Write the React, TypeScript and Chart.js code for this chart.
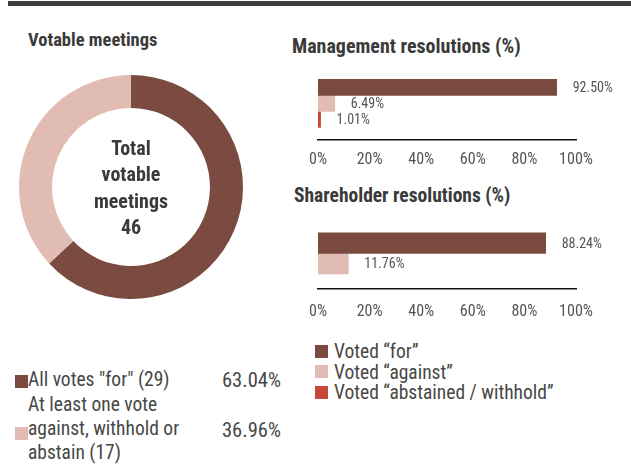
import React, { useEffect, useRef } from "react";
import { Chart, registerables } from "chart.js";

Chart.register(...registerables);

const FONT = "'Roboto Condensed', 'Open Sans Condensed', 'DejaVu Sans Condensed', sans-serif";

// ---- data ----
const meetingLabelLines = [["All votes \"for\" (29)"], ["At least one vote", "against, withhold or", "abstain (17)"]];
const meetingCounts = [29, 17];
const meetingShares = ["63.04%", "36.96%"];
const totalMeetings = 46;
const centerLines = ["Total", "votable", "meetings"];

const voteSeries = ["Voted “for”", "Voted “against”", "Voted “abstained / withhold”"];
const managementValues = [92.5, 6.49, 1.01];
const shareholderValues = [88.24, 11.76];
const percentTicks = [0, 20, 40, 60, 80, 100];

const voteColors = ["#7b4a41", "#e0bcb3", "#c9463d"];
const meetingColors = ["#7b4a41", "#e0bcb3"];

const TEXT_DARK = "#3a3a3a";
const TEXT_GRAY = "#474747";

const valueLabelPlugin = {
  id: "valueLabels",
  afterDatasetsDraw(chart: any) {
    const ctx = chart.ctx;
    ctx.save();
    ctx.font = `14px ${FONT}`;
    ctx.fillStyle = "#555555";
    ctx.textBaseline = "middle";
    ctx.textAlign = "left";
    chart.data.datasets.forEach((ds: any, i: number) => {
      const meta = chart.getDatasetMeta(i);
      meta.data.forEach((el: any, j: number) => {
        const v = ds.data[j];
        ctx.fillText(`${Number(v).toFixed(2)}%`, el.x + 16, el.y + 1);
      });
    });
    ctx.restore();
  },
};

function barOptions(padTop: number, tickPad: number, thickness: number) {
  return {
    indexAxis: "y" as const,
    responsive: false,
    animation: false as const,
    layout: { padding: { left: 30, right: 55, top: padTop, bottom: 4 } },
    plugins: { legend: { display: false }, tooltip: { enabled: false } },
    datasets: { bar: { barThickness: thickness } },
    scales: {
      y: { display: false },
      x: {
        min: percentTicks[0],
        max: percentTicks[percentTicks.length - 1],
        afterBuildTicks: (axis: any) => {
          axis.ticks = percentTicks.map((v) => ({ value: v }));
        },
        grid: { display: false, drawTicks: false },
        border: { display: true, color: "#111111", width: 1.5 },
        ticks: {
          padding: tickPad,
          color: "#555555",
          font: { family: FONT, size: 16 },
          callback: (v: any) => `${v}%`,
        },
      },
    },
  };
}

function BarChart({ values, top, height, padTop, tickPad, thickness }: any) {
  const ref = useRef<HTMLCanvasElement>(null);
  useEffect(() => {
    const chart = new Chart(ref.current!, {
      type: "bar",
      data: {
        labels: [""],
        datasets: values.map((v: number, i: number) => ({
          label: voteSeries[i],
          data: [v],
          backgroundColor: voteColors[i],
          borderWidth: 0,
        })),
      },
      options: barOptions(padTop, tickPad, thickness) as any,
      plugins: [valueLabelPlugin],
    });
    return () => chart.destroy();
  }, []);
  return (
    <canvas
      ref={ref}
      width={343}
      height={height}
      style={{ position: "absolute", left: 288, top, width: 343, height }}
    />
  );
}

function Donut() {
  const ref = useRef<HTMLCanvasElement>(null);
  useEffect(() => {
    const chart = new Chart(ref.current!, {
      type: "doughnut",
      data: {
        labels: meetingLabelLines.map((l) => l.join(" ")),
        datasets: [{ data: meetingCounts, backgroundColor: meetingColors, borderWidth: 0 }],
      },
      options: {
        responsive: false,
        animation: false,
        cutout: "70.5%",
        layout: { padding: 4 },
        plugins: { legend: { display: false }, tooltip: { enabled: false } },
      },
    });
    return () => chart.destroy();
  }, []);
  return (
    <canvas
      ref={ref}
      width={232}
      height={232}
      style={{ position: "absolute", left: 15, top: 71, width: 232, height: 232 }}
    />
  );
}

function Text({ left, cy, size, bold, color, lh, children, width, align }: any) {
  const lineH = lh || Math.round(size * 1.2);
  return (
    <div
      style={{
        position: "absolute",
        left,
        top: cy - lineH / 2,
        width: width,
        textAlign: align || "left",
        fontFamily: FONT,
        fontSize: size,
        fontWeight: bold ? 700 : 400,
        lineHeight: `${lineH}px`,
        color,
        whiteSpace: "nowrap",
      }}
    >
      {children}
    </div>
  );
}

function Square({ left, cy, color }: any) {
  return (
    <div style={{ position: "absolute", left, top: cy - 6.5, width: 13, height: 13, background: color }} />
  );
}

export default function App() {
  const allCenter = [...centerLines, String(totalMeetings)];
  const row1Lines = meetingLabelLines[0];
  const row2Lines = meetingLabelLines[1];
  return (
    <div
      style={{
        position: "absolute",
        left: 0,
        top: 0,
        width: 631,
        height: 470,
        overflow: "hidden",
        background: "#ffffff",
      }}
    >
      <div style={{ position: "absolute", left: 8, top: 1, width: 623, height: 5, background: "#3d3d3d" }} />

      <Text left={28} cy={40} size={18.5} bold color={TEXT_DARK}>Votable meetings</Text>
      <Text left={292} cy={46} size={20} bold color={TEXT_DARK}>Management resolutions (%)</Text>
      <Text left={294} cy={195} size={19.5} bold color={TEXT_DARK}>Shareholder resolutions (%)</Text>

      <Donut />
      {allCenter.map((t, i) => (
        <Text key={i} left={31} width={200} align="center" cy={148 + i * 26.3} size={20} bold color={TEXT_DARK}>
          {t}
        </Text>
      ))}

      <BarChart values={managementValues} top={60} height={125} padTop={7} tickPad={11} thickness={16} />
      <BarChart values={shareholderValues} top={212} height={128} padTop={6} tickPad={14} thickness={20.5} />

      {/* donut legend */}
      <Square left={15} cy={381} color={meetingColors[0]} />
      {row1Lines.map((t, i) => (
        <Text key={i} left={28} cy={380} size={19.5} color={TEXT_GRAY} lh={24}>{t}</Text>
      ))}
      <Text left={222} cy={380} size={20.5} color={TEXT_GRAY} lh={24}>{meetingShares[0]}</Text>

      <Square left={15} cy={433} color={meetingColors[1]} />
      {row2Lines.map((t, i) => (
        <Text key={i} left={28} cy={405 + i * 24} size={19.5} color={TEXT_GRAY} lh={24}>{t}</Text>
      ))}
      <Text left={222} cy={430} size={20.5} color={TEXT_GRAY} lh={24}>{meetingShares[1]}</Text>

      {/* bar legend */}
      {voteSeries.map((s, i) => (
        <React.Fragment key={i}>
          <Square left={315} cy={351 + i * 20.7} color={voteColors[i]} />
          <Text left={334} cy={352 + i * 20.7} size={19.5} color={TEXT_GRAY} lh={22}>{s}</Text>
        </React.Fragment>
      ))}
    </div>
  );
}
